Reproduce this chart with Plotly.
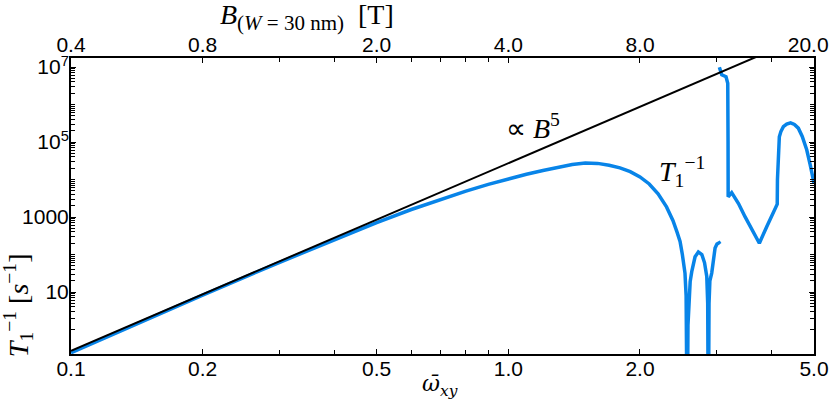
import math
import plotly.graph_objects as go

# ---------------- data ----------------
# bottom axis: reduced frequency omega_xy ; top axis: B (T) = 4 * omega
omega_ticks_major = [0.1, 0.2, 0.5, 1.0, 2.0, 5.0]
omega_ticks_minor = [0.3, 0.4, 0.6, 0.7, 0.8, 0.9, 3, 4]
b_ticks_major = [0.4, 0.8, 2.0, 4.0, 8.0, 20.0]
b_ticks_minor = [1.2, 1.6, 2.4, 2.8, 3.2, 3.6, 12, 16]
y_ticks_major = [10, 1000, 1e5, 1e7]
y_ticks_labels = ["10", "1000", "10<sup>5</sup>", "10<sup>7</sup>"]

# reference line  ∝ B^5
ref_omega = [0.1, 5.0]
ref_rate = [0.272, 8.5e7]

# T1^-1 curve, segments separated by None
t1_omega = [0.1, 0.13, 0.2, 0.3, 0.4, 0.5, 0.6, 0.7, 0.8, 0.9, 1.0, 1.1, 1.2, 1.3, 1.4, 1.5,
            1.6, 1.7, 1.8, 1.9, 2.0, 2.1, 2.2, 2.3, 2.38, 2.43, 2.47, 2.50, 2.535, 2.55, 2.565,
            2.575, 2.585, 2.605, 2.627, 2.673, 2.72, 2.77, 2.81, 2.843, 2.857, 2.867,
            2.877, 2.89, 2.918, 2.945, 2.970, 3.0, 3.021, 3.035, 3.048,
            None,
            3.038, 3.076, 3.146, 3.175, 3.18, 3.182, 3.242, 3.36, 3.477, 3.62, 3.75, 3.898,
            4.07, 4.11, 4.12, 4.125, 4.14, 4.166, 4.20, 4.255, 4.33, 4.42, 4.51, 4.604,
            4.70, 4.812, 4.90, 4.98, 5.0]
t1_rate = [0.24, 0.93, 8.3, 62, 251, 708, 1585, 2950, 4900, 7400, 10500, 13800, 17400,
           21400, 25100, 27500, 26900, 24000, 20400, 16200, 11700, 7600, 4170, 1860,
           800, 400, 224, 100, 32, 8, 0.001,
           1.3, 5, 19, 35, 87, 117, 100, 60, 26, 5, 0.001,
           5, 20, 32, 90, 148, 190, 200, 205, 190,
           None,
           9.8e6, 6.2e6, 5.5e6, 3.7e6, 1e5, 3470, 4470, 2290, 1020, 447, 200, 550,
           1700, 2000, 2200, 1e4, 5e4, 1.38e5, 1.9e5, 2.57e5, 3.0e5, 3.24e5, 2.95e5, 2.34e5,
           1.41e5, 6.2e4, 2.5e4, 9800, 8000]

# ---------------- figure ----------------
y_minor = [m * 10 ** e for e in range(0, 7) for m in range(1, 10)
           if m * 10 ** e not in y_ticks_major]

blue = "rgb(8,132,232)"
fig = go.Figure()
fig.add_trace(go.Scatter(x=t1_omega, y=t1_rate, mode="lines",
                         line=dict(color=blue, width=3.5), connectgaps=False,
                         hoverinfo="skip", showlegend=False))
fig.add_trace(go.Scatter(x=ref_omega, y=ref_rate, mode="lines",
                         line=dict(color="black", width=2),
                         hoverinfo="skip", showlegend=False))
fig.add_trace(go.Scatter(x=b_ticks_major, y=[None] * len(b_ticks_major), xaxis="x2",
                         mode="markers", hoverinfo="skip", showlegend=False))

tickfont = dict(family="Liberation Sans, Arial, sans-serif", size=21, color="black")
minor_common = dict(ticks="inside", ticklen=4, tickwidth=1, tickcolor="black", showgrid=False)
b_text = [f"{v:.1f}" for v in b_ticks_major]
b_text[-1] = b_text[-1] + "\u00a0\u00a0"

fig.update_layout(
    width=830, height=402,
    margin=dict(l=71, r=16, t=58, b=48),
    paper_bgcolor="white", plot_bgcolor="white",
    xaxis=dict(type="log", range=[math.log10(0.1), math.log10(5.0)], automargin=False,
               tickmode="array", tickvals=omega_ticks_major,
               ticktext=[f"{v:.1f}" for v in omega_ticks_major],
               ticks="inside", ticklen=5, tickwidth=1, tickcolor="black",
               minor=dict(tickmode="array", tickvals=omega_ticks_minor, **minor_common),
               showline=True, linewidth=2, linecolor="black", mirror=False,
               showgrid=False, zeroline=False, tickfont=tickfont,
               ticklabeloverflow="allow", ticklabelstandoff=-5),
    xaxis2=dict(type="log", range=[math.log10(0.4), math.log10(20.0)], automargin=False,
                overlaying="x", side="top", anchor="y",
                tickmode="array", tickvals=b_ticks_major, ticktext=b_text,
                ticks="inside", ticklen=5, tickwidth=1, tickcolor="black",
                minor=dict(tickmode="array", tickvals=b_ticks_minor, **minor_common),
                showline=True, linewidth=2, linecolor="black",
                showgrid=False, zeroline=False, tickfont=tickfont,
                ticklabeloverflow="allow", ticklabelstandoff=-4),
    yaxis=dict(type="log", range=[-0.653, 7.24], automargin=False,
               tickmode="array", tickvals=y_ticks_major, ticktext=y_ticks_labels,
               ticks="inside", ticklen=5, tickwidth=1, tickcolor="black",
               minor=dict(tickmode="array", tickvals=y_minor, **minor_common),
               showline=True, linewidth=2, linecolor="black", mirror="ticks",
               showgrid=False, zeroline=False, tickfont=tickfont,
               ticklabeloverflow="allow", ticklabelstandoff=-4),
)

serif = dict(family="Liberation Serif, Times New Roman, serif", color="black")
fig.add_annotation(
    text="<i>B</i><sub><span style='font-size:21px'>(<i>W</i> = 30 nm)</span></sub>  [T]",
    xref="paper", yref="paper", x=0.198, y=1.1385, showarrow=False,
    font=dict(size=28, **serif), xanchor="left", yanchor="middle")
fig.add_annotation(text="<i>ω̄</i><sub><i>xy</i></sub>", xref="paper", yref="paper",
                   x=0.4966, y=-0.105, showarrow=False,
                   font=dict(size=22, family="DejaVu Serif, serif", color="black"),
                   xanchor="center", yanchor="middle")
fig.add_annotation(text="<i>T</i><sub>1</sub><sup>−1</sup> [<i>s</i><sup>−1</sup>]", xref="paper", yref="paper",
                   x=-0.0713, y=0.165, showarrow=False, font=dict(size=28, **serif),
                   textangle=-90, xanchor="center", yanchor="middle")
fig.add_annotation(text="∝ <i>B</i><sup>5</sup>", xref="paper", yref="paper",
                   x=0.622, y=0.767, showarrow=False, font=dict(size=28, **serif),
                   xanchor="center", yanchor="middle")
fig.add_annotation(text="<i>T</i><sub>1</sub><sup>−1</sup>", xref="paper", yref="paper",
                   x=0.822, y=0.615, showarrow=False, font=dict(size=28, **serif),
                   xanchor="center", yanchor="middle")

# remove the browser's default 8 px body margin so the figure fills the window
fig.write_html("out.html", config={"displayModeBar": False},
               post_script="document.body.style.margin='0';")
